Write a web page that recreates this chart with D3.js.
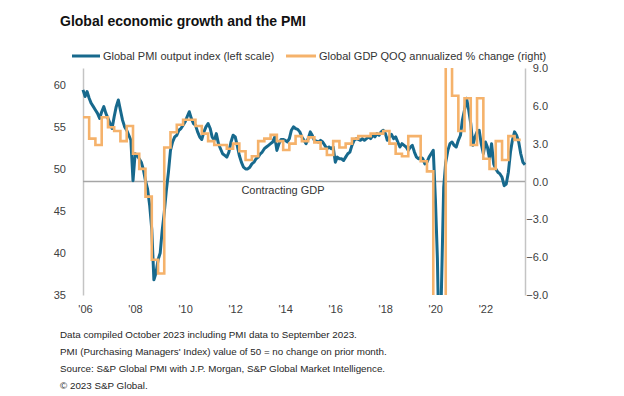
<!DOCTYPE html>
<html>
<head>
<meta charset="utf-8">
<script src="https://cdn.jsdelivr.net/npm/d3@7"></script>
<style>
  body { margin: 0; background: #fff; }
  svg { display: block; font-family: "Liberation Sans", Arial, sans-serif; }
  .axis text { fill: #404040; font-size: 11px; }
  .axis path { stroke: #c4c4c4; stroke-width: 1.5; }
  .note { fill: #262626; font-size: 9.8px; }
</style>
</head>
<body>
<div id="chart"></div>
<script>
// Global composite PMI output index, monthly Jan 2006 - Sep 2023 (left scale)
const pmi = [
  59.4, 58.6, 59.2, 58.4, 57.8, 57.4, 57.0, 56.6, 56.0, 56.8, 57.4, 56.6,
  56.0, 55.4, 54.8, 56.2, 57.4, 58.2, 57.0, 55.8, 55.0, 54.6, 54.0, 53.4,
  48.6, 51.8, 51.6, 51.2, 50.8, 49.9, 48.6, 47.6, 45.6, 42.8, 36.8, 37.6,
  39.2, 40.0, 42.6, 44.8, 47.4, 49.6, 52.2, 53.2, 53.8, 54.0, 54.6, 54.8,
  55.2, 55.6, 56.2, 56.8, 56.0, 55.4, 55.2, 54.4, 53.8, 53.5, 54.4, 55.0,
  55.4, 54.8, 53.8, 53.4, 54.2, 53.0, 52.4, 51.8, 51.6, 51.4, 52.0, 53.2,
  54.0, 53.8, 52.8, 51.6, 50.8, 50.2, 50.0, 50.0, 50.2, 50.6, 50.8, 51.2,
  51.4, 51.8, 52.0, 52.4, 52.6, 52.8, 53.0, 53.2, 53.8, 52.2, 53.0, 53.5,
  53.5, 53.4, 53.2, 53.6, 54.6, 55.0, 54.8, 54.7, 54.4, 53.8, 53.4, 53.0,
  53.6, 54.4, 54.0, 53.4, 53.3, 53.2, 53.4, 53.2, 52.8, 52.4, 52.6, 52.4,
  52.6, 50.8, 51.4, 51.2, 51.2, 51.0, 51.4, 51.8, 52.0, 52.8, 53.4, 53.6,
  53.5, 53.4, 53.6, 53.4, 53.6, 53.8, 53.6, 54.0, 53.8, 54.2, 54.0, 54.4,
  54.6, 54.2, 53.4, 53.8, 54.1, 53.6, 53.8, 53.2, 52.6, 53.0, 52.8, 52.6,
  52.2, 52.6, 52.8, 52.0, 51.4, 51.2, 51.4, 51.2, 50.6, 50.8, 51.4, 51.8,
  52.2, 46.4, 39.4, 26.2, 36.3, 47.8, 50.8, 52.2, 53.0, 53.2, 52.8, 52.6,
  53.4, 54.0, 55.8, 57.0, 58.4, 57.0, 55.4, 52.8, 53.8, 54.4, 54.6, 53.0,
  51.8, 53.2, 52.6, 51.2, 53.0, 50.6, 50.0, 49.6, 49.4, 49.0, 48.0, 48.2,
  49.6, 52.0, 53.4, 54.4, 54.0, 53.2, 51.8, 50.8, 50.5
];

// Global GDP QOQ annualized % change, quarterly Q1 2006 - Q2 2023 (right scale)
const gdp = [
  5.1, 3.4, 2.9, 5.1,
  4.3, 4.0, 3.2, 4.4,
  2.2, 1.0, -1.2, -6.2,
  -7.3, 2.7, 3.9, 4.5,
  4.9, 4.9, 4.4, 3.8,
  3.2, 2.9, 2.9, 2.6,
  3.0, 2.4, 1.7, 2.0,
  3.2, 3.4, 3.7, 3.2,
  2.5, 3.0, 3.6, 3.2,
  3.5, 3.1, 2.6, 2.1,
  3.2, 2.7, 3.0, 3.4,
  3.6, 3.6, 3.8, 3.8,
  4.0, 3.0, 2.2, 2.0,
  3.6, 3.6, 1.6, 0.8,
  -13.0, -30.0, 38.0, 6.8,
  4.0, 6.6, 2.9, 6.6,
  1.8, 1.0, 3.2, 1.7,
  3.6, 3.3
];

const tickYears = [2006, 2008, 2010, 2012, 2014, 2016, 2018, 2020, 2022];
const leftTicks = [35, 40, 45, 50, 55, 60];
const rightTicks = [-9, -6, -3, 0, 3, 6, 9];

const notes = [
  'Data compiled October 2023 including PMI data to September 2023.',
  "PMI (Purchasing Managers' Index) value of 50 = no change on prior month.",
  'Source: S&P Global PMI with J.P. Morgan, S&P Global Market Intelligence.',
  '\u00a9 2023 S&P Global.'
];

const width = 624, height = 396;
const plot = { left: 83, right: 525, top: 68, bottom: 295 };
const blue = '#17698d', orange = '#f5b26b';

const svg = d3.select('#chart').append('svg')
  .attr('width', width)
  .attr('height', height);

const x = d3.scaleTime()
  .domain([new Date(2006, 0, 1), new Date(2023, 8, 1)])
  .range([plot.left, plot.right]);
const yL = d3.scaleLinear().domain([35, 62]).range([plot.bottom, plot.top]);
const yR = d3.scaleLinear().domain([-9, 9]).range([plot.bottom, plot.top]);

// Title and legend
svg.append('text')
  .attr('x', 60).attr('y', 26)
  .attr('font-size', 14).attr('font-weight', 'bold').attr('fill', '#111')
  .text('Global economic growth and the PMI');

const legend = [
  { label: 'Global PMI output index (left scale)', color: blue, x0: 72, x1: 100 },
  { label: 'Global GDP QOQ annualized % change (right)', color: orange, x0: 286, x1: 316 }
];
legend.forEach((d) => {
  svg.append('line')
    .attr('x1', d.x0).attr('x2', d.x1).attr('y1', 56).attr('y2', 56)
    .attr('stroke', d.color).attr('stroke-width', 3);
  svg.append('text')
    .attr('x', d.x1 + 3).attr('y', 60)
    .attr('font-size', 11).attr('fill', '#333')
    .text(d.label);
});

// Axes
svg.append('g').attr('class', 'axis')
  .attr('transform', `translate(${plot.left},0)`)
  .call(d3.axisLeft(yL).tickValues(leftTicks).tickSize(0).tickPadding(17))
  .call((g) => g.selectAll('text').attr('dy', '0.35em'));

svg.append('g').attr('class', 'axis')
  .attr('transform', `translate(${plot.right},0)`)
  .call(d3.axisRight(yR).tickValues(rightTicks).tickSize(0).tickFormat(d3.format('.1f')))
  .call((g) => g.selectAll('text').attr('text-anchor', 'end').attr('x', 23));

svg.append('g').attr('class', 'axis')
  .attr('transform', `translate(0,${plot.bottom})`)
  .call(d3.axisBottom(x)
    .tickValues(tickYears.map((yr) => new Date(yr, 0, 1)))
    .tickSize(0).tickPadding(10)
    .tickFormat((d) => "'" + String(d.getFullYear()).slice(2)))
  .call((g) => g.select('.domain').remove())
  .call((g) => g.selectAll('text').attr('dx', 2));

// Zero GDP line
svg.append('line')
  .attr('x1', plot.left).attr('x2', plot.right)
  .attr('y1', yR(0)).attr('y2', yR(0))
  .attr('stroke', '#a6a6a6').attr('stroke-width', 1.3);

svg.append('text')
  .attr('x', 283).attr('y', 194)
  .attr('text-anchor', 'middle').attr('font-size', 11).attr('fill', '#333')
  .text('Contracting GDP');

// Series, clipped to the plot box
svg.append('clipPath').attr('id', 'plot-clip')
  .append('rect')
  .attr('x', plot.left - 3).attr('y', plot.top)
  .attr('width', plot.right - plot.left + 6).attr('height', plot.bottom - plot.top);

const series = svg.append('g').attr('clip-path', 'url(#plot-clip)');

const pmiData = pmi.map((v, i) => ({ date: new Date(2006, i, 1), value: v }));
series.append('path')
  .datum(pmiData)
  .attr('fill', 'none')
  .attr('stroke', blue)
  .attr('stroke-width', 3)
  .attr('stroke-linejoin', 'round')
  .attr('d', d3.line().x((d) => x(d.date)).y((d) => yL(d.value)));

const gdpData = gdp.map((v, i) => ({ date: new Date(2006, i * 3, 1), value: v }));
gdpData.push({ date: new Date(2006, gdp.length * 3, 1), value: gdp[gdp.length - 1] });
series.append('path')
  .datum(gdpData)
  .attr('fill', 'none')
  .attr('stroke', orange)
  .attr('stroke-width', 2.6)
  .attr('d', d3.line().curve(d3.curveStepAfter).x((d) => x(d.date)).y((d) => yR(d.value)));

// Footnotes
svg.selectAll('.note')
  .data(notes)
  .enter()
  .append('text')
  .attr('class', 'note')
  .attr('x', 60)
  .attr('y', (d, i) => 338 + i * 17)
  .text((d) => d);
</script>
</body>
</html>
